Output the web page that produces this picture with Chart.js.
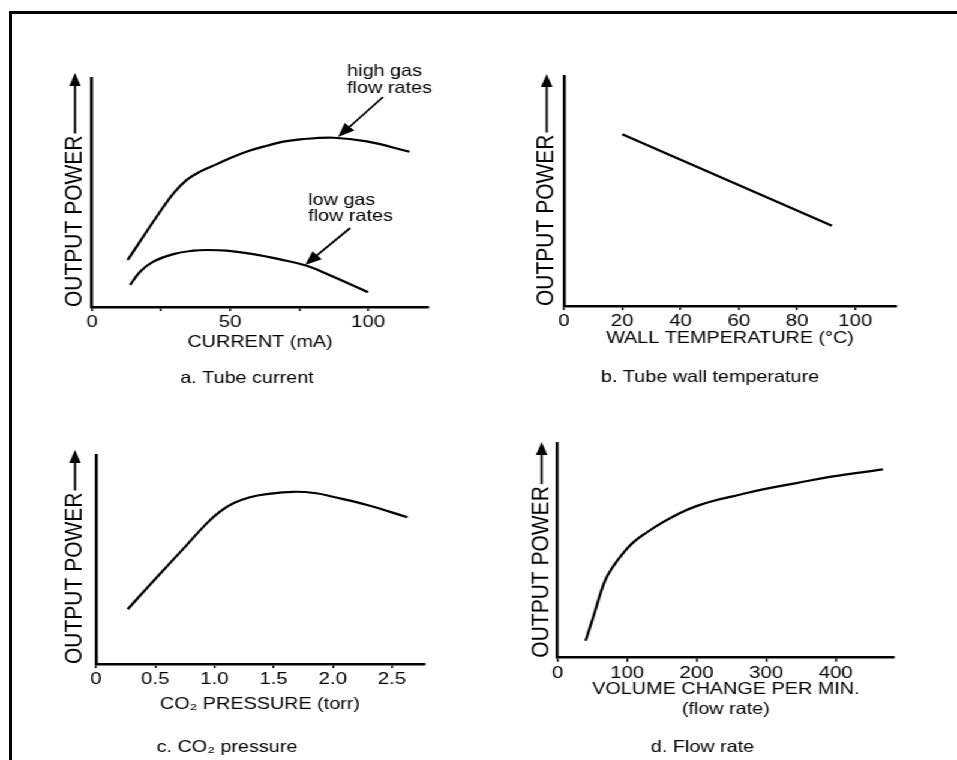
<!DOCTYPE html>
<html>
<head>
<meta charset="utf-8">
<script src="https://cdn.jsdelivr.net/npm/chart.js@4/dist/chart.umd.min.js"></script>
<style>
html, body { margin: 0; padding: 0; background: #fff; width: 957px; height: 760px; overflow: hidden; }
#frame { position: absolute; left: 9px; top: 11px; width: 960px; height: 760px; box-sizing: border-box;
         border-top: 3px solid #000; border-left: 3px solid #000; }
#stage { position: absolute; left: 0; top: 0; width: 797.5px; height: 760px;
         transform: scaleX(1.2); transform-origin: 0 0; }
#stage canvas { position: absolute; }
</style>
</head>
<body>
<div id="frame"></div>
<div id="stage">
  <canvas id="chartA"></canvas>
  <canvas id="chartB"></canvas>
  <canvas id="chartC"></canvas>
  <canvas id="chartD"></canvas>
</div>
<script>
// ---------- data (output power in relative units 0-100) ----------
// a. Tube current
const currentHighX = [12.9, 23.4, 29.5, 34.3, 39.1, 45.2, 51.2, 57.2, 63.3, 69.3, 75.4, 87.4, 99.5, 115];
const currentHighY = [20.5, 39.4, 49.6, 55.5, 59.1, 62.4, 65.6, 68.3, 70.4, 72.2, 73.2, 73.9, 72.3, 67.8];
const currentLowX  = [13.8, 17.4, 22.2, 29.5, 36.7, 41.5, 48.8, 58.4, 68.1, 77.8, 87.4, 100];
const currentLowY  = [9.6, 15.4, 19.8, 23.1, 24.6, 24.9, 24.6, 23.1, 20.8, 18.0, 13.2, 6.4];
const currentTickLabels = [0, 50, 100];

// b. Tube wall temperature
const wallTempX = [20, 92];
const wallTempY = [74.7, 34.9];
const wallTempTickLabels = [0, 20, 40, 60, 80, 100];

// c. CO2 pressure
const pressureX = [0.268, 0.428, 0.597, 0.766, 0.935, 1.047, 1.16, 1.30, 1.44, 1.67, 1.86, 2.0, 2.29, 2.63];
const pressureY = [26.2, 36.2, 46.6, 56.9, 67.3, 72.9, 76.9, 79.8, 81.3, 82.4, 81.7, 80.0, 76.1, 70.2];
const pressureTickValues = [0, 0.5, 1.0, 1.5, 2.0, 2.5];
const pressureTickLabels = ['0', '0.5', '1.0', '1.5', '2.0', '2.5'];

// d. Flow rate
const flowX = [40.3, 50.8, 67.6, 79.6, 94.0, 108.4, 127.6, 151.6, 175.5, 199.6, 223.5, 261.9, 295.4, 343.5, 391.4, 468.1];
const flowY = [7.9, 18.5, 35.4, 42.4, 48.6, 53.6, 58.2, 63.1, 67.3, 70.6, 73.0, 75.9, 78.4, 81.3, 84.2, 87.7];
const flowTickLabels = [0, 100, 200, 300, 400];

// annotations of panel a (anchored in data units)
const currentNotes = [
  { lines: ['high gas', 'flow rates'], x: 92.4, y: 102.8, arrowFrom: [105.4, 91.7], arrowTo: [89.1, 74.2] },
  { lines: ['low gas', 'flow rates'],  x: 78.3, y: 46.7,  arrowFrom: [93.5, 34.5],  arrowTo: [77.2, 18.3] }
];

// ---------- layout (unstretched stage coordinates) ----------
const FONT = "'Liberation Sans', Arial, Helvetica, sans-serif";
Chart.defaults.font.family = FONT;
Chart.defaults.color = '#000';

const layoutA = { left: 76.7, right: 356.7, top: 78, bottom: 307,   gap: 14.2, cap: 205.8, H: 45.6, capPad: 15.8, tip: 5 };
const layoutB = { left: 470,  right: 746.7, top: 76, bottom: 306,   gap: 14.4, cap: 591.7, H: 42.0, capPad: 19.4, tip: 2 };
const layoutC = { left: 80,   right: 353.3, top: 455, bottom: 664,  gap: 17.5, cap: 189.2, H: 50.6, capPad: 22.8, tip: 5 };
const layoutD = { left: 464.7, right: 745,  top: 443, bottom: 657.7, gap: 13.3, cap: 585.4, H: 61.5, capPad: 17.9, tip: 1 };

const Y_FONT = 21, LH = 1.2, TXT = 16.5, TICK = 17;

function pts(xs, ys) { return xs.map((x, i) => ({ x: x, y: ys[i] })); }

function drawArrowHead(ctx, x1, y1, x2, y2, len, half) {
  const a = Math.atan2(y2 - y1, x2 - x1);
  ctx.beginPath();
  ctx.moveTo(x2, y2);
  ctx.lineTo(x2 - len * Math.cos(a) + half * Math.sin(a), y2 - len * Math.sin(a) - half * Math.cos(a));
  ctx.lineTo(x2 - len * Math.cos(a) - half * Math.sin(a), y2 - len * Math.sin(a) + half * Math.cos(a));
  ctx.closePath();
  ctx.fill();
}

// arrow after the rotated "OUTPUT POWER" axis title
const powerArrow = {
  id: 'powerArrow',
  afterDraw(chart, args, opts) {
    const s = chart.scales.y;
    const t = s.options.title;
    const f = Chart.helpers.toFont(t.font);
    const pad = Chart.helpers.toPadding(t.padding);
    const x = s.left + pad.top + f.lineHeight / 2;
    const ctx = chart.ctx;
    ctx.save();
    ctx.font = f.string;
    const w = ctx.measureText(t.text).width;
    const yStart = s.bottom - w - 2;
    const tipY = s.top - (opts.tip || 0);
    ctx.strokeStyle = '#000';
    ctx.fillStyle = '#000';
    ctx.lineWidth = 1.8;
    ctx.beginPath();
    ctx.moveTo(x, yStart);
    ctx.lineTo(x, tipY + 10);
    ctx.stroke();
    drawArrowHead(ctx, x, yStart, x, tipY, 13, 4.8);
    ctx.restore();
  }
};

// text labels with arrows (panel a)
const noteLabels = {
  id: 'noteLabels',
  afterDraw(chart, args, opts) {
    if (!opts.notes) return;
    const sx = chart.scales.x, sy = chart.scales.y, ctx = chart.ctx;
    ctx.save();
    ctx.font = TXT + 'px ' + FONT;
    ctx.fillStyle = '#000';
    ctx.strokeStyle = '#000';
    ctx.textAlign = 'left';
    ctx.textBaseline = 'middle';
    opts.notes.forEach(n => {
      const px = sx.getPixelForValue(n.x), py = sy.getPixelForValue(n.y);
      n.lines.forEach((l, i) => ctx.fillText(l, px, py + i * 16.6));
      const x1 = sx.getPixelForValue(n.arrowFrom[0]), y1 = sy.getPixelForValue(n.arrowFrom[1]);
      const x2 = sx.getPixelForValue(n.arrowTo[0]),   y2 = sy.getPixelForValue(n.arrowTo[1]);
      const a = Math.atan2(y2 - y1, x2 - x1);
      ctx.lineWidth = 1.8;
      ctx.beginPath();
      ctx.moveTo(x1, y1);
      ctx.lineTo(x2 - 8 * Math.cos(a), y2 - 8 * Math.sin(a));
      ctx.stroke();
      drawArrowHead(ctx, x1, y1, x2, y2, 14, 5.5);
    });
    ctx.restore();
  }
};

function makePanel(id, L, cfg) {
  const canvas = document.getElementById(id);
  const capLH = TXT * LH;
  const capBox = L.capPad + capLH;
  const innerLeft = 2 * L.cap - L.right;      // canvas left + layout padding left
  const W = L.left - innerLeft;                // width of the y axis box
  const cLeft = Math.floor(innerLeft - 4);
  const padL = innerLeft - cLeft;
  const cW = Math.ceil(L.right + 40 - cLeft);
  const padR = cLeft + cW - L.right;
  const cTop = Math.floor(L.top - 40);
  const padT = L.top - cTop;
  const cH = Math.ceil(L.bottom + L.H + capBox + 12 - cTop);
  const padB = cTop + cH - (L.bottom + L.H + capBox);
  canvas.width = cW; canvas.height = cH;
  canvas.style.left = cLeft + 'px'; canvas.style.top = cTop + 'px';
  canvas.style.width = cW + 'px'; canvas.style.height = cH + 'px';
  const yTitlePad = W - L.gap - (Y_FONT * LH) / 2;

  return new Chart(canvas, {
    type: 'line',
    data: { datasets: cfg.datasets.map(d => ({
      data: d, borderColor: '#000', borderWidth: 2.2, pointRadius: 0,
      fill: false, tension: 0.4
    })) },
    options: {
      responsive: false, animation: false, devicePixelRatio: 1,
      layout: { padding: { left: padL, right: padR, top: padT, bottom: padB } },
      plugins: {
        legend: { display: false }, tooltip: { enabled: false },
        title: { display: true, position: 'bottom', text: cfg.caption,
                 font: { size: TXT, family: FONT, weight: 'normal', lineHeight: LH }, color: '#000',
                 padding: { top: L.capPad, bottom: 0 } },
        powerArrow: { tip: L.tip },
        noteLabels: { notes: cfg.notes || null }
      },
      scales: {
        x: {
          type: 'linear', position: 'bottom', min: 0, max: cfg.xMax,
          afterFit: s => { s.height = L.H; },
          border: { display: true, color: '#000', width: 2.5 },
          grid: { display: true, drawOnChartArea: false, drawTicks: true, tickLength: 4, color: '#000', lineWidth: 1.5 },
          ticks: {
            stepSize: cfg.step, includeBounds: false, autoSkip: false, maxRotation: 0,
            padding: 1, color: '#000', font: { size: TICK, family: FONT },
            callback: cfg.tickCb
          },
          title: { display: true, text: cfg.xTitle, color: '#000',
                   font: { size: TXT, family: FONT, lineHeight: LH }, padding: 0 }
        },
        y: {
          type: 'linear', position: 'left', min: 0, max: 100,
          afterFit: s => { s.width = W; },
          border: { display: true, color: '#000', width: 2.5 },
          grid: { display: true, drawOnChartArea: false, drawTicks: false },
          ticks: { display: false },
          title: { display: true, text: 'OUTPUT POWER', align: 'start', color: '#000',
                   font: { size: Y_FONT, family: FONT, lineHeight: LH },
                   padding: { top: yTitlePad, bottom: 0 } }
        }
      }
    },
    plugins: [powerArrow, noteLabels]
  });
}

makePanel('chartA', layoutA, {
  datasets: [pts(currentHighX, currentHighY), pts(currentLowX, currentLowY)],
  xMax: 121.7, step: 25,
  tickCb: v => currentTickLabels.includes(v) ? String(v) : '',
  xTitle: 'CURRENT (mA)', caption: 'a. Tube current', notes: currentNotes
});

makePanel('chartB', layoutB, {
  datasets: [pts(wallTempX, wallTempY)],
  xMax: 114, step: 20,
  tickCb: v => wallTempTickLabels.includes(v) ? String(v) : '',
  xTitle: 'WALL TEMPERATURE (°C)', caption: 'b. Tube wall temperature'
});

makePanel('chartC', layoutC, {
  datasets: [pts(pressureX, pressureY)],
  xMax: 2.77, step: 0.5,
  tickCb: v => { const i = pressureTickValues.indexOf(v); return i >= 0 ? pressureTickLabels[i] : ''; },
  xTitle: 'CO₂ PRESSURE (torr)', caption: 'c. CO₂ pressure'
});

makePanel('chartD', layoutD, {
  datasets: [pts(flowX, flowY)],
  xMax: 484, step: 100,
  tickCb: v => flowTickLabels.includes(v) ? String(v) : '',
  xTitle: ['VOLUME CHANGE PER MIN.', '(flow rate)'], caption: 'd. Flow rate'
});
</script>
</body>
</html>
